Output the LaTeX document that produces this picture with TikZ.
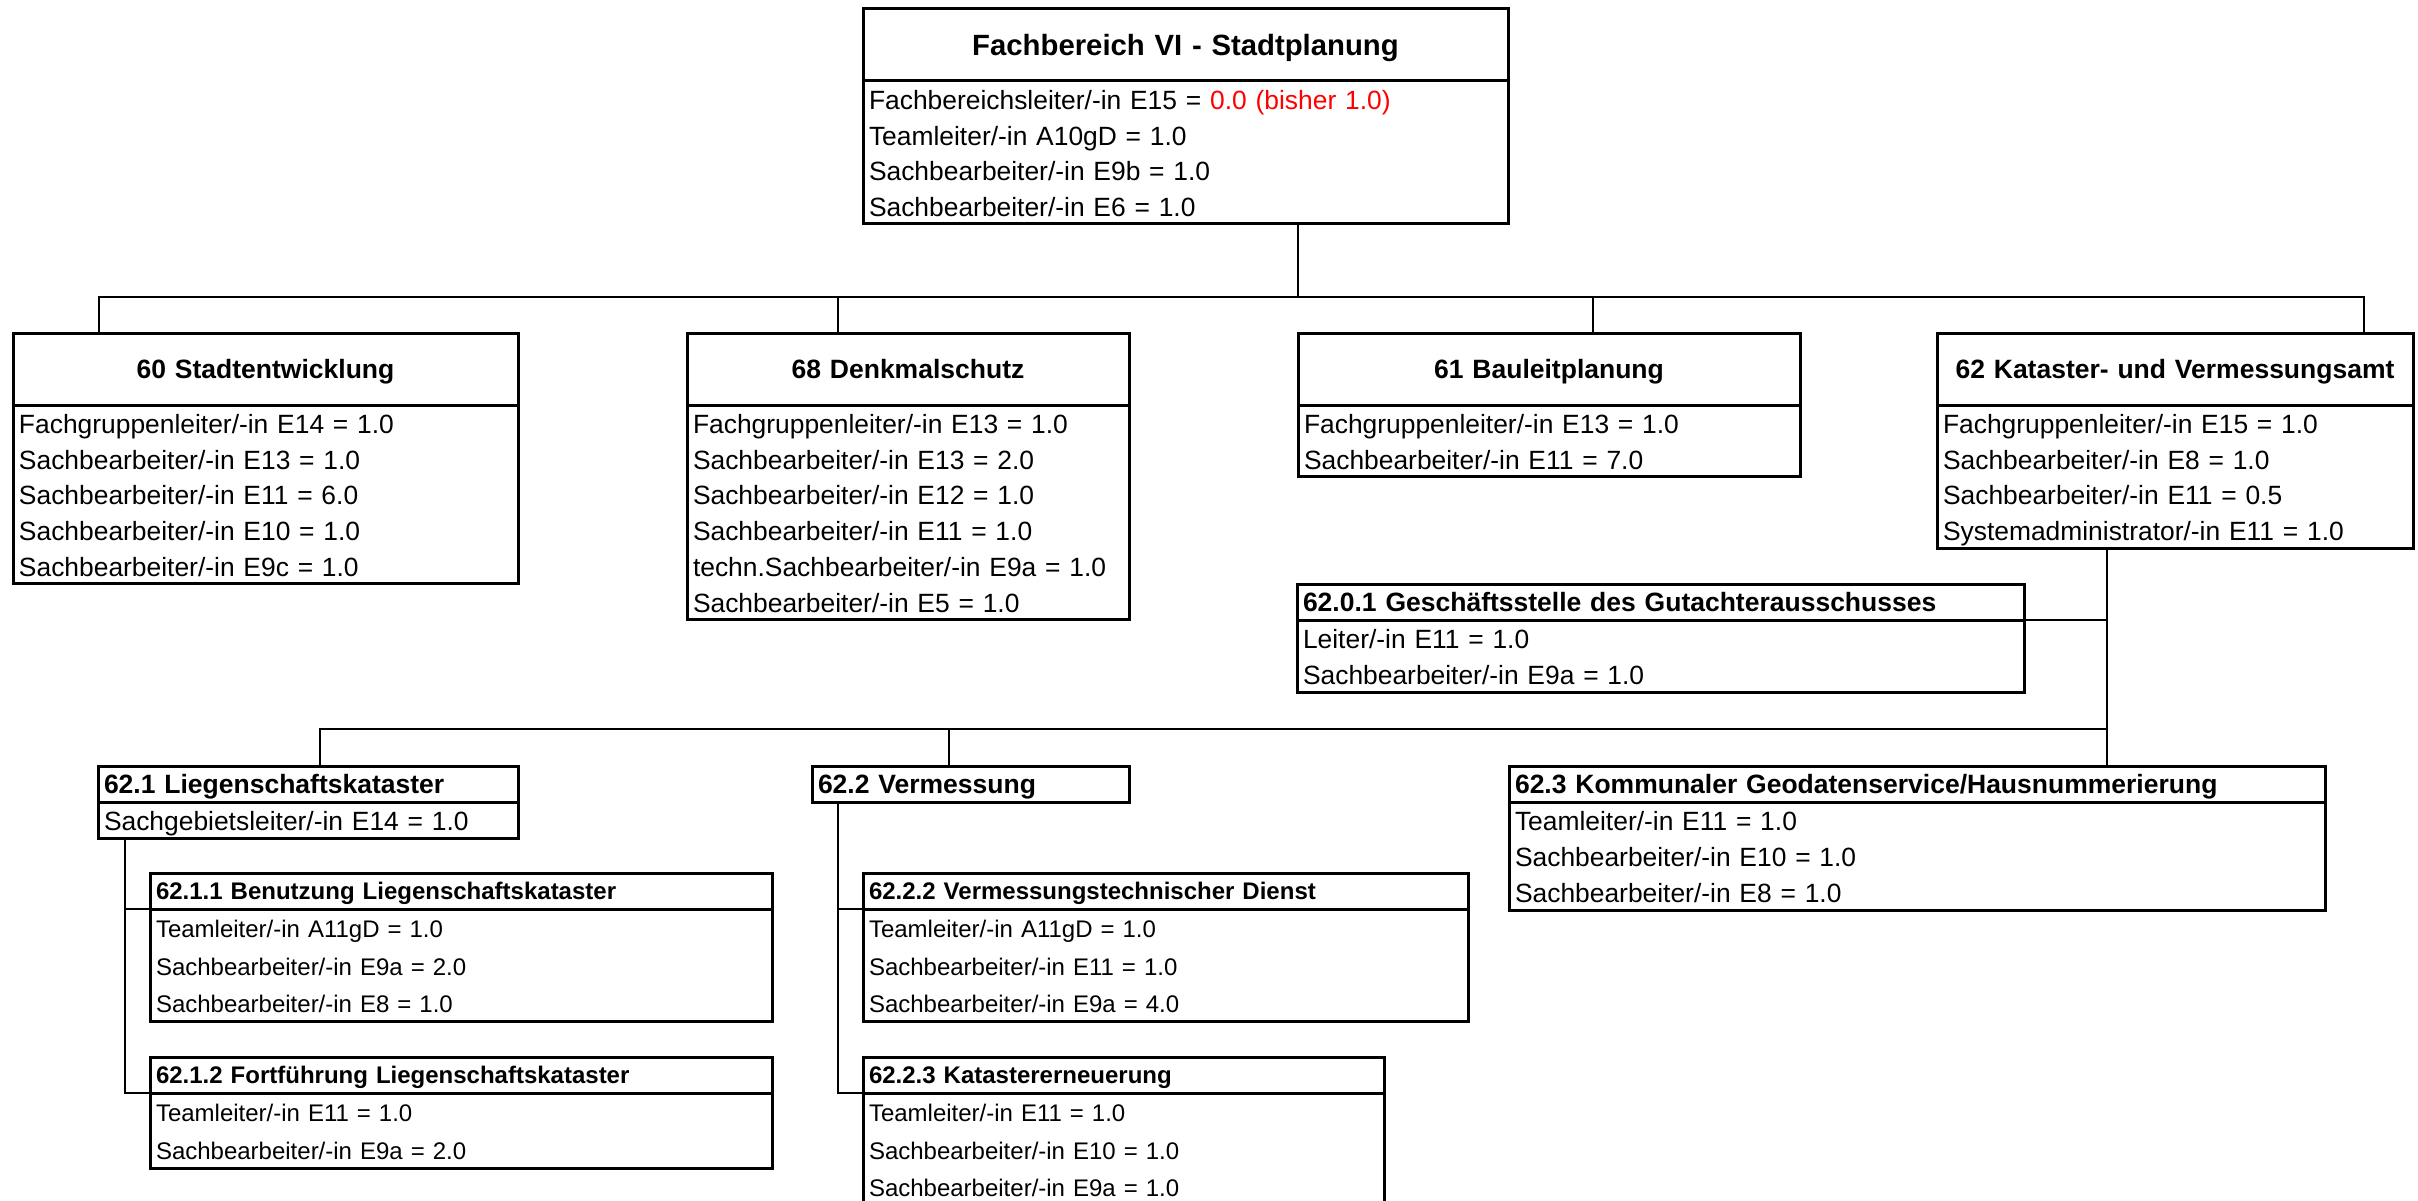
\documentclass[tikz,border=0pt]{standalone}
\usepackage{fontspec}
\setmainfont{Liberation Sans}
\usetikzlibrary{positioning}

\newcommand{\za}{\vrule height 28.3pt depth 7.45pt width 0pt}
\newcommand{\zb}{\vrule height 28.45pt depth 7.55pt width 0pt}
\newcommand{\zc}{\vrule height 28.6pt depth 8.9pt width 0pt}

\begin{document}
\begin{tikzpicture}
	[x=1pt,y=-1pt,
	kopf/.style={draw=black,line width=3pt,anchor=north west,
		inner xsep=6pt,inner ysep=0pt,outer sep=0pt,text depth=0pt,
		font=\bfseries\fontsize{26.5}{30}\selectfont,text height=19pt},
	kopf0/.style={kopf,minimum height=72pt,align=center,
		font=\bfseries\fontsize{29.3}{33}\selectfont,text height=21pt},
	kopf1/.style={kopf,minimum height=72pt,align=center},
	kopf2/.style={kopf,minimum height=36pt,align=left},
	kopf3/.style={kopf,minimum height=36pt,align=left,
		font=\bfseries\fontsize{24}{28}\selectfont,text height=17.2pt},
	feld/.style={draw=black,line width=3pt,anchor=north west,
		inner xsep=6pt,inner ysep=0pt,outer sep=0pt,align=left,
		font=\fontsize{26.4}{35.75}\selectfont},
	feld2/.style={feld,font=\fontsize{26.4}{36}\selectfont},
	feld3/.style={feld,font=\fontsize{24}{37.5}\selectfont},
	linie/.style={black,line width=2.8pt}]
\useasboundingbox (0,0) rectangle (2418,1201);

%Fachbereich
\node[kopf0,text width=633pt] (t0) at (863,9) {Fachbereich VI - Stadtplanung};
\node[feld,text width=633pt] (z0) at (t0.south west)
{\za Fachbereichsleiter/-in E15 = \textcolor{red}{0.0 (bisher 1.0)}\\
\za Teamleiter/-in A10gD = 1.0\\
\za Sachbearbeiter/-in E9b = 1.0\\
\za Sachbearbeiter/-in E6 = 1.0};

%Fachgruppen
\node[kopf1,text width=493pt] (t60) at (13,333) {60 Stadtentwicklung};
\node[feld,text width=493pt] (z60) at (t60.south west)
{\za Fachgruppenleiter/-in E14 = 1.0\\
\za Sachbearbeiter/-in E13 = 1.0\\
\za Sachbearbeiter/-in E11 = 6.0\\
\za Sachbearbeiter/-in E10 = 1.0\\
\za Sachbearbeiter/-in E9c = 1.0};
\node[kopf1,text width=430pt] (t68) at (687,333) {68 Denkmalschutz};
\node[feld,text width=430pt] (z68) at (t68.south west)
{\za Fachgruppenleiter/-in E13 = 1.0\\
\za Sachbearbeiter/-in E13 = 2.0\\
\za Sachbearbeiter/-in E12 = 1.0\\
\za Sachbearbeiter/-in E11 = 1.0\\
\za techn.Sachbearbeiter/-in E9a = 1.0\\
\za Sachbearbeiter/-in E5 = 1.0};
\node[kopf1,text width=490pt] (t61) at (1298,333) {61 Bauleitplanung};
\node[feld,text width=490pt] (z61) at (t61.south west)
{\za Fachgruppenleiter/-in E13 = 1.0\\
\za Sachbearbeiter/-in E11 = 7.0};
\node[kopf1,text width=464pt] (t62) at (1937,333) {62 Kataster- und Vermessungsamt};
\node[feld,text width=464pt] (z62) at (t62.south west)
{\za Fachgruppenleiter/-in E15 = 1.0\\
\za Sachbearbeiter/-in E8 = 1.0\\
\za Sachbearbeiter/-in E11 = 0.5\\
\za Systemadministrator/-in E11 = 1.0};

%Sachgebiete 62
\node[kopf2,text width=715pt] (t6201) at (1297,584) {62.0.1 Geschäftsstelle des Gutachterausschusses};
\node[feld2,text width=715pt] (z6201) at (t6201.south west)
{\zb Leiter/-in E11 = 1.0\\
\zb Sachbearbeiter/-in E9a = 1.0};
\node[kopf2,text width=408pt] (t621) at (98,766) {62.1 Liegenschaftskataster};
\node[feld2,text width=408pt] (z621) at (t621.south west)
{\zb Sachgebietsleiter/-in E14 = 1.0};
\node[kopf2,text width=305pt] (t622) at (812,766) {62.2 Vermessung};
\node[kopf2,text width=804pt] (t623) at (1509,766) {62.3 Kommunaler Geodatenservice/Hausnummerierung};
\node[feld2,text width=804pt] (z623) at (t623.south west)
{\zb Teamleiter/-in E11 = 1.0\\
\zb Sachbearbeiter/-in E10 = 1.0\\
\zb Sachbearbeiter/-in E8 = 1.0};

%Teams
\node[kopf3,text width=610pt] (t6211) at (150,873) {62.1.1 Benutzung Liegenschaftskataster};
\node[feld3,text width=610pt] (z6211) at (t6211.south west)
{\zc Teamleiter/-in A11gD = 1.0\\
\zc Sachbearbeiter/-in E9a = 2.0\\
\zc Sachbearbeiter/-in E8 = 1.0};
\node[kopf3,text width=610pt] (t6212) at (150,1057) {62.1.2 Fortführung Liegenschaftskataster};
\node[feld3,text width=610pt] (z6212) at (t6212.south west)
{\zc Teamleiter/-in E11 = 1.0\\
\zc Sachbearbeiter/-in E9a = 2.0};
\node[kopf3,text width=593pt] (t6222) at (863,873) {62.2.2 Vermessungstechnischer Dienst};
\node[feld3,text width=593pt] (z6222) at (t6222.south west)
{\zc Teamleiter/-in A11gD = 1.0\\
\zc Sachbearbeiter/-in E11 = 1.0\\
\zc Sachbearbeiter/-in E9a = 4.0};
\node[kopf3,text width=509pt] (t6223) at (863,1057) {62.2.3 Katastererneuerung};
\node[feld3,text width=509pt] (z6223) at (t6223.south west)
{\zc Teamleiter/-in E11 = 1.0\\
\zc Sachbearbeiter/-in E10 = 1.0\\
\zc Sachbearbeiter/-in E9a = 1.0};

%Verbindungen oben
\coordinate (k0) at (1298,297);
\coordinate (k60) at (99,297);
\coordinate (k68) at (838,297);
\coordinate (k61) at (1593,297);
\coordinate (k62) at (2364,297);
\draw[linie] (z0.south -| k0) -- (k0);
\draw[linie] (t60.north -| k60) -- (k60) -- (k62) -- (t62.north -| k62);
\draw[linie] (k68) -- (t68.north -| k68);
\draw[linie] (k61) -- (t61.north -| k61);

%Verbindungen 62
\coordinate (m1) at (320,729);
\coordinate (m2) at (949,729);
\coordinate (m3) at (2107,729);
\draw[linie] (z62.south -| m3) -- (t623.north -| m3);
\draw[linie] (t621.north -| m1) -- (m1) -- (m3);
\draw[linie] (m2) -- (t622.north -| m2);
\draw[linie] (t6201.south east) -- (t6201.south east -| m3);

%Verbindungen Teams
\coordinate (u1) at (125,0);
\coordinate (u2) at (838,0);
\draw[linie] (z621.south -| u1) -- (t6212.south west -| u1) -- (t6212.south west);
\draw[linie] (t6211.south west -| u1) -- (t6211.south west);
\draw[linie] (t622.south -| u2) -- (t6223.south west -| u2) -- (t6223.south west);
\draw[linie] (t6222.south west -| u2) -- (t6222.south west);
\end{tikzpicture}
\end{document}
